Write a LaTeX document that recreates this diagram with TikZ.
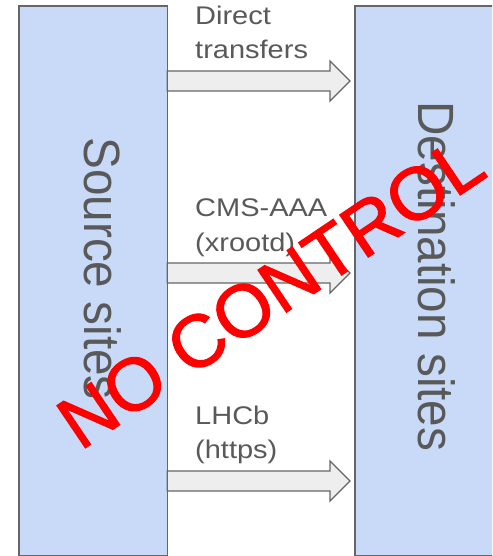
\documentclass[tikz,border=0pt]{standalone}
\usepackage{fontspec}
\setmainfont{Liberation Sans}
\newfontfamily\stampfont[FakeBold=1.6]{Liberation Sans}
\definecolor{boxfill}{HTML}{C9DAF8}
\definecolor{boxline}{HTML}{666666}
\definecolor{arrowfill}{HTML}{EEEEEE}
\definecolor{txt}{HTML}{595959}
\begin{document}
\begin{tikzpicture}[x=1pt,y=-1pt,
  sitebox/.style={draw=boxline, fill=boxfill, line width=1.3pt, inner sep=0pt, outer sep=0pt},
  flow/.style={draw=boxline, fill=arrowfill, line width=1.3pt, line join=miter},
  lbl/.style={text=txt, anchor=base west, inner sep=0pt, font=\fontsize{29}{34}\selectfont},
  side/.style={text=txt, rotate=-90, anchor=base, inner sep=0pt, font=\fontsize{51}{60}\selectfont},
  stamp/.style={text=red, anchor=base, inner sep=0pt, font=\stampfont\fontsize{74}{88}\selectfont}]
\useasboundingbox (0,0) rectangle (492,556);
\clip (0,0) rectangle (492,556);
\fill[white] (0,0) rectangle (492,556);
% site boxes
\node[sitebox, minimum width=148.3pt, minimum height=549.5pt] (src) at (93.15,280.75) {};
\node[sitebox, minimum width=160pt, minimum height=549.5pt] (dst) at (435,280.75) {};
% transfer arrows
\draw[flow] (src.east |- 0,71) -- (330,71) -- (330,61) -- (350,81) -- (330,101) -- (330,91) -- (src.east |- 0,91) -- cycle;
\draw[flow] (src.east |- 0,263) -- (330,263) -- (330,253) -- (350,273) -- (330,293) -- (330,283) -- (src.east |- 0,283) -- cycle;
\draw[flow] (src.east |- 0,471) -- (330,471) -- (330,461) -- (350,481) -- (330,501) -- (330,491) -- (src.east |- 0,491) -- cycle;
% labels
\node[lbl] (l1a) at (195,25) {\scalebox{1}[0.88]{Direct}};
\node[lbl] (l1b) at (195,59) {\scalebox{1}[0.88]{transfers}};
\node[lbl] (l2a) at (195,216) {\scalebox{1}[0.88]{CMS-AAA}};
\node[lbl] (l2b) at (195,251) {\scalebox{1}[0.88]{(xrootd)}};
\node[lbl] (l3a) at (195,424) {\scalebox{1}[0.88]{LHCb}};
\node[lbl] (l3b) at (195,458) {\scalebox{1}[0.88]{(https)}};
% side texts
\node[side] (srct) at (84.5,268.5) {\scalebox{0.935}[1]{Source sites}};
\node[side] (dstt) at (418.5,276.4) {\scalebox{0.935}[1]{Destination sites}};
% stamp
\node[stamp, rotate=34] (nc) at (284.9,313.3) {NO CONTROL};
\end{tikzpicture}
\end{document}
